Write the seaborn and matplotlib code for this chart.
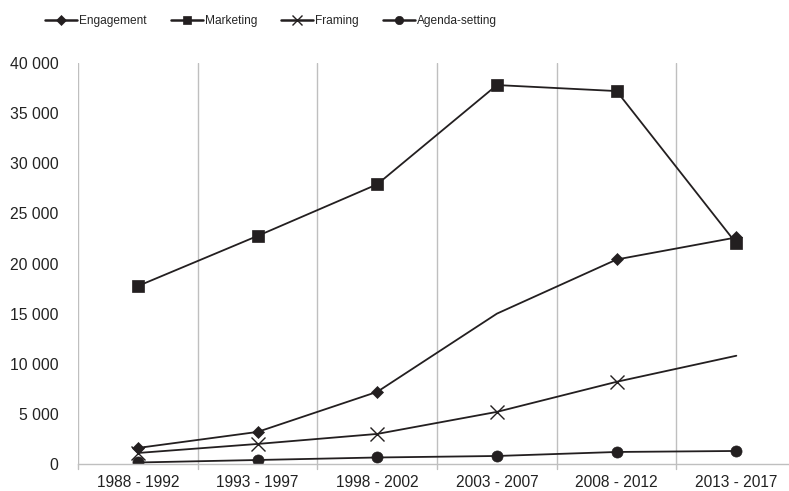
import numpy as np
import pandas as pd
import matplotlib
matplotlib.use("Agg")
import matplotlib.pyplot as plt
from matplotlib import font_manager
from matplotlib.lines import Line2D
import seaborn as sns

sns.set_style("white")
plt.rcParams['font.family'] = ['Liberation Sans', 'DejaVu Sans']

periods = ["1988 - 1992", "1993 - 1997", "1998 - 2002", "2003 - 2007", "2008 - 2012", "2013 - 2017"]
engagement = [1600, 3200, 7200, 15000, 20400, 22600]
marketing = [17750, 22750, 27900, 37800, 37200, 22000]
framing = [1100, 2000, 3000, 5200, 8200, 10800]
agenda_setting = [150, 400, 650, 800, 1200, 1300]

series = [
    ("Engagement", engagement, "D", 6.5, [0, 1, 2, 4, 5]),
    ("Marketing", marketing, "s", 8.5, None),
    ("Framing", framing, "x", 10.5, [0, 1, 2, 3, 4]),
    ("Agenda-setting", agenda_setting, "o", 8, None),
]

dark = "#231f20"
fig = plt.figure(figsize=(7.89, 4.91), dpi=100)
ax = fig.add_axes([78 / 789, 1 - 464 / 491, 1 - 78 / 789, (464 - 63) / 491])

x = np.arange(len(periods))
for name, vals, mk, ms, every in series:
    df = pd.DataFrame({"x": x, "y": vals})
    sns.lineplot(data=df, x="x", y="y", ax=ax, color=dark, linewidth=1.3,
                 marker=mk, markersize=ms, markevery=every,
                 markeredgecolor=dark, markerfacecolor=dark,
                 markeredgewidth=1.0 if mk == "x" else 0.5, legend=False)

ax.set_xlim(-0.5, 5.44)
ax.set_ylim(0, 40000)
ax.set_xticks(x)
ax.set_xticklabels(periods, fontsize=11.2, color="#222222")
yt = np.arange(0, 40001, 5000)
ax.set_yticks(yt)
ax.set_yticklabels([f"{v:,}".replace(",", " ") for v in yt], fontsize=11.3, color="#222222")
ax.set_xlabel("")
ax.set_ylabel("")
ax.tick_params(axis="y", length=0, pad=14)
ax.tick_params(axis="x", length=0, pad=8)

# vertical separators between categories plus small ticks below axis
for b in np.arange(-0.5, 5.0, 1.0):
    ax.axvline(b, color="#bfbfbf", linewidth=1.0, zorder=0)
    ax.plot([b, b], [0, -0.012], transform=ax.get_xaxis_transform(), color="#bfbfbf",
            linewidth=1.0, clip_on=False)

for s in ["top", "right", "left"]:
    ax.spines[s].set_visible(False)
ax.spines["bottom"].set_color("#bfbfbf")
ax.spines["bottom"].set_linewidth(1.0)

# legend font: narrow face if available, else smaller regular face
try:
    font_manager.findfont(font_manager.FontProperties(family='Liberation Sans Narrow'),
                          fallback_to_default=False)
    leg_family, leg_size = 'Liberation Sans Narrow', 11
except ValueError:
    leg_family, leg_size = 'Liberation Sans', 8.6
px = leg_size * 100 / 72

handles = [Line2D([], [], color=dark, linewidth=1.8, marker=mk, markersize=ms * 0.75,
                  markeredgecolor=dark, markerfacecolor=dark,
                  markeredgewidth=1.0 if mk == "x" else 0.5)
           for name, vals, mk, ms, every in series]
labels = [s[0] for s in series]
fig.legend(handles, labels, loc="center left", bbox_to_anchor=(45 / 789, 1 - 21 / 491), ncol=4,
           frameon=False, handlelength=32 / px, columnspacing=24 / px,
           handletextpad=2 / px, borderpad=0, borderaxespad=0,
           prop={'family': leg_family, 'size': leg_size})

fig.savefig("out.png", dpi=100)
